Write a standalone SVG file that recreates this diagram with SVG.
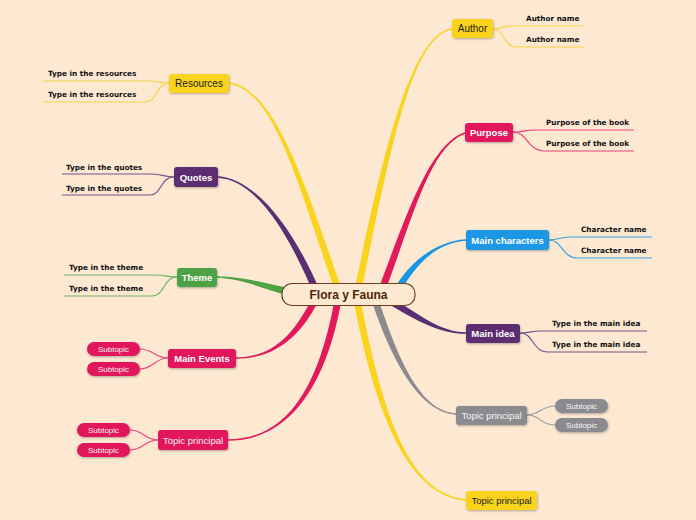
<svg xmlns="http://www.w3.org/2000/svg" width="696" height="520" viewBox="0 0 696 520">
<defs>
<filter id="sh" x="-20%" y="-30%" width="140%" height="170%">
<feDropShadow dx="0.6" dy="1" stdDeviation="0.8" flood-color="#000" flood-opacity="0.3"/>
</filter>
<style>
.bg{fill:#fde8d2}
.nd{filter:url(#sh)}
.yel{fill:#f9d31d}
.cri{fill:#e2195b}
.blu{fill:#1a97e3}
.pur{fill:#5b2d71}
.grn{fill:#4ea244}
.gry{fill:#8b8b8f}
.lb{font-family:"Liberation Sans",Arial,sans-serif;font-size:9.5px;text-anchor:middle}
.wb{fill:#fff;font-weight:bold}
.dk{fill:#1c1c1c;font-size:10px}
.lt{fill:#f4f4f4}
.st{font-family:"Liberation Sans",Arial,sans-serif;font-size:8px;text-anchor:middle;fill:#f6f6f6}
.sub{font-family:"DejaVu Sans",Verdana,sans-serif;font-size:7.3px;font-weight:bold;fill:#111}
.sc{fill:none;stroke-width:1.2}
.sy{stroke:#f6d444}
.scr{stroke:#e8447a}
.sbl{stroke:#3aa3e5}
.spu{stroke:#77528c}
.sgr{stroke:#6cb35f}
.sgy{stroke:#9b9b9f}
</style>
</defs>
<rect class="bg" x="0" y="0" width="696" height="520"/>
<g id="connectors">
<path class="yel" d="M360.4,295.7 C388.4,160.7 410.1,35.8 452.1,29.8 L451.9,28.2 C409.9,34.2 381.6,159.3 353.6,294.3 Z"/>
<path class="yel" d="M343.3,293.9 C303.3,178.9 275.1,89.2 229.1,82.2 L228.9,83.8 C274.9,90.8 296.7,181.1 336.7,296.1 Z"/>
<path class="pur" d="M321.2,293.7 C298.2,238.7 260.1,179.2 218.1,176.2 L217.9,177.8 C259.9,180.8 291.8,241.4 314.8,296.4 Z"/>
<path class="grn" d="M290.2,288.5 C262.2,282.5 245,277.2 217,276.2 L217,277.8 C245,278.8 261.8,289.5 289.8,295.5 Z"/>
<path class="cri" d="M311.9,298.4 C291.9,338.4 270,357.2 236,357.2 L236,358.8 C270,358.8 298.1,341.6 318.1,301.6 Z"/>
<path class="cri" d="M334.6,299.4 C316.6,399.4 280,439.2 228,439.2 L228,440.8 C280,440.8 323.4,400.6 341.4,300.6 Z"/>
<path class="cri" d="M383.3,296.2 C413.3,216.2 430.3,145.8 465.3,133.8 L464.7,132.2 C429.7,144.2 406.7,213.8 376.7,293.8 Z"/>
<path class="blu" d="M398.1,296.6 C413.1,266.6 435.1,242.8 466.1,240.8 L465.9,239.2 C434.9,241.2 406.9,263.4 391.9,293.4 Z"/>
<path class="pur" d="M390.2,305 C415.2,320 440,333.8 466,333.8 L466,332.2 C440,332.2 418.8,314 393.8,299 Z"/>
<path class="gry" d="M371.7,301.1 C391.7,361.1 420,412.8 456,414.8 L456,413.2 C420,411.2 398.3,358.9 378.3,298.9 Z"/>
<path class="yel" d="M353.6,300.7 C376.6,420.7 409.9,495.8 465.9,500.8 L466.1,499.2 C410.1,494.2 383.4,419.3 360.4,299.3 Z"/>
<path class="sc sy" d="M493,29 C503,29 500,26 512,26 H584"/>
<path class="sc sy" d="M493,29 C505,29 503,47 517,47 H584"/>
<path class="sc scr" d="M513,132 C525,132 522,130 537,130 H634"/>
<path class="sc scr" d="M513,132 C528,132 527,151 545,151 H634"/>
<path class="sc sbl" d="M549,240 C560,240 558,237 570,237 H652"/>
<path class="sc sbl" d="M549,240 C562,240 562,258 578,258 H652"/>
<path class="sc spu" d="M520,333 C532,333 530,331 540,331 H647"/>
<path class="sc spu" d="M520,333 C534,333 532,352 548,352 H647"/>
<path class="sc sgy" d="M527,415 C541,415 540,406 555,406"/>
<path class="sc sgy" d="M527,415 C541,415 540,425 555,425"/>
<path class="sc sy" d="M169,83 C158,83 158,81 150,81 H43"/>
<path class="sc sy" d="M169,83 C156,83 158,102 145,102 H43"/>
<path class="sc spu" d="M174,177 C165,177 162,174 152,174 H62"/>
<path class="sc spu" d="M174,177 C160,177 162,195 150,195 H62"/>
<path class="sc sgr" d="M177,277 C168,277 165,275 155,275 H64"/>
<path class="sc sgr" d="M177,277 C163,277 165,296 152,296 H64"/>
<path class="sc scr" d="M168,358 C155,358 153,349 140,349"/>
<path class="sc scr" d="M168,358 C155,358 153,369 140,369"/>
<path class="sc scr" d="M158,440 C145,440 143,430 130,430"/>
<path class="sc scr" d="M158,440 C145,440 143,450 130,450"/>
</g>
<g id="center">
<rect x="282" y="283.5" width="133" height="22" rx="10" fill="#fde8d2" stroke="#6e3f1f" stroke-width="1.2"/>
<text x="348.5" y="299" font-family="Liberation Sans,Arial,sans-serif" font-size="12" font-weight="bold" fill="#4e260a" text-anchor="middle">Flora y Fauna</text>
</g>
<g id="author">
<rect class="nd yel" x="452" y="19" width="41" height="19" rx="3"/>
<text class="lb dk" x="472.5" y="32">Author</text>
<text class="sub" x="526" y="21">Author name</text>
<text class="sub" x="526" y="42">Author name</text>
</g>
<g id="purpose">
<rect class="nd cri" x="465" y="123" width="48" height="19" rx="3"/>
<text class="lb wb" x="489" y="136">Purpose</text>
<text class="sub" x="546" y="125">Purpose of the book</text>
<text class="sub" x="546" y="146">Purpose of the book</text>
</g>
<g id="main-characters">
<rect class="nd blu" x="466" y="230" width="83" height="20" rx="3"/>
<text class="lb wb" x="507.5" y="243.5">Main characters</text>
<text class="sub" x="581" y="232">Character name</text>
<text class="sub" x="581" y="253">Character name</text>
</g>
<g id="main-idea">
<rect class="nd pur" x="466" y="324" width="54" height="19" rx="3"/>
<text class="lb wb" x="493" y="337">Main idea</text>
<text class="sub" x="552" y="326">Type in the main idea</text>
<text class="sub" x="552" y="347">Type in the main idea</text>
</g>
<g id="topic-gray">
<rect class="nd gry" x="456" y="406" width="71" height="19" rx="3"/>
<text class="lb lt" x="491.5" y="419">Topic principal</text>
<rect class="nd gry" x="555" y="399" width="53" height="14" rx="7"/>
<text class="st" x="581.5" y="409">Subtopic</text>
<rect class="nd gry" x="555" y="418" width="53" height="14" rx="7"/>
<text class="st" x="581.5" y="428">Subtopic</text>
</g>
<g id="topic-yellow">
<rect class="nd yel" x="466" y="491" width="71" height="19" rx="3"/>
<text class="lb dk" x="501.5" y="504" style="font-size:9.5px">Topic principal</text>
</g>
<g id="resources">
<rect class="nd yel" x="169" y="74" width="60" height="19" rx="3"/>
<text class="lb dk" x="199" y="87">Resources</text>
<text class="sub" x="48" y="76">Type in the resources</text>
<text class="sub" x="48" y="97">Type in the resources</text>
</g>
<g id="quotes">
<rect class="nd pur" x="174" y="167" width="44" height="20" rx="3"/>
<text class="lb wb" x="196" y="180.5">Quotes</text>
<text class="sub" x="66" y="170">Type in the quotes</text>
<text class="sub" x="66" y="191">Type in the quotes</text>
</g>
<g id="theme">
<rect class="nd grn" x="177" y="268" width="40" height="19" rx="3"/>
<text class="lb wb" x="197" y="281">Theme</text>
<text class="sub" x="69" y="270">Type in the theme</text>
<text class="sub" x="69" y="291">Type in the theme</text>
</g>
<g id="main-events">
<rect class="nd cri" x="168" y="349" width="68" height="19" rx="3"/>
<text class="lb wb" x="202" y="362">Main Events</text>
<rect class="nd cri" x="87" y="342" width="53" height="14" rx="7"/>
<text class="st" x="113.5" y="352">Subtopic</text>
<rect class="nd cri" x="87" y="362" width="53" height="14" rx="7"/>
<text class="st" x="113.5" y="372">Subtopic</text>
</g>
<g id="topic-crimson">
<rect class="nd cri" x="158" y="430" width="70" height="20" rx="3"/>
<text class="lb lt" x="193" y="443.5">Topic principal</text>
<rect class="nd cri" x="77" y="423" width="53" height="14" rx="7"/>
<text class="st" x="103.5" y="433">Subtopic</text>
<rect class="nd cri" x="77" y="443" width="53" height="14" rx="7"/>
<text class="st" x="103.5" y="453">Subtopic</text>
</g>
</svg>
